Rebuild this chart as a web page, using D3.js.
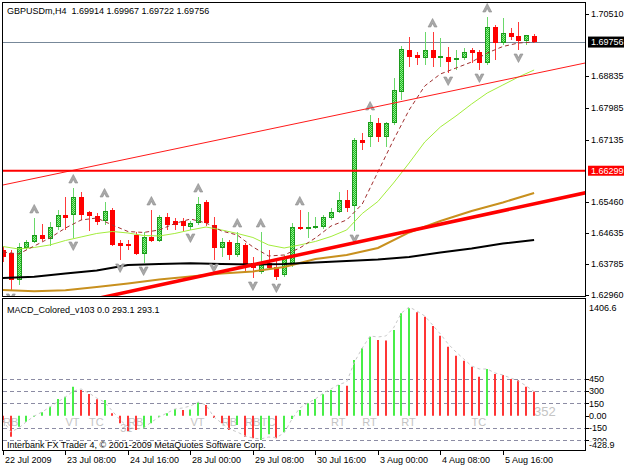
<!DOCTYPE html>
<html><head><meta charset="utf-8">
<script src="https://cdn.jsdelivr.net/npm/d3@7"></script>
<style>
html,body{margin:0;padding:0;background:#fff;}
svg{display:block;font-family:"Liberation Sans",Arial,sans-serif;}
text{white-space:pre;}
</style></head><body>
<svg id="c" width="625" height="469"></svg>
<script>
// ---------- DATA ----------
const open=[1.64169,1.64089,1.63363,1.64223,1.64384,1.64572,1.64465,1.64787,1.65110,1.65110,
1.65593,1.65190,1.65083,1.64949,1.65244,1.64357,1.64331,1.64572,1.64062,1.64519,
1.64411,1.65056,1.64949,1.64949,1.64787,1.64895,1.65459,1.64841,1.64223,1.64384,
1.64035,1.64304,1.63820,1.63578,1.63820,1.63713,1.63498,1.63766,1.64787,1.64734,
1.64774,1.64787,1.65029,1.65190,1.65513,1.65352,1.67125,1.67205,1.67582,1.67205,
1.67582,1.68414,1.69543,1.69408,1.69328,1.69543,1.69328,1.69355,1.69274,1.69328,
1.69543,1.69489,1.69194,1.70161,1.69731,1.70000,1.69919,1.69785,1.69914];
const high=[1.64250,1.64169,1.64357,1.64438,1.65029,1.64868,1.64922,1.65244,1.65593,1.65835,
1.65728,1.65217,1.65164,1.65459,1.65298,1.64438,1.64438,1.64653,1.64653,1.65244,
1.65110,1.65164,1.65029,1.65029,1.64949,1.65593,1.65513,1.65056,1.64492,1.64438,
1.64653,1.64357,1.63981,1.64653,1.64169,1.63901,1.64035,1.64895,1.65244,1.65190,
1.65056,1.65110,1.65298,1.65728,1.65781,1.67178,1.67313,1.67796,1.67716,1.67608,
1.68791,1.69650,1.69892,1.69489,1.70026,1.70026,1.69865,1.69623,1.69543,1.69597,
1.69597,1.69543,1.70429,1.70214,1.70403,1.70134,1.70295,1.69946,1.69967];
const low=[1.63847,1.63095,1.63229,1.64169,1.64357,1.64411,1.64277,1.64707,1.64707,1.64492,
1.64975,1.64680,1.64841,1.64841,1.64277,1.63901,1.64169,1.64035,1.63820,1.64384,
1.64384,1.64707,1.64707,1.64680,1.64707,1.64841,1.64814,1.63901,1.63981,1.63901,
1.63981,1.63578,1.63417,1.63525,1.63632,1.63363,1.63444,1.63713,1.64707,1.64492,
1.64734,1.64734,1.64975,1.65164,1.65190,1.64680,1.66856,1.66937,1.67071,1.66937,
1.67528,1.68199,1.69086,1.69140,1.69140,1.69086,1.69086,1.68925,1.69005,1.69274,
1.69194,1.69005,1.69140,1.69274,1.69677,1.69811,1.69543,1.69677,1.69722];
const close=[1.63981,1.63363,1.64250,1.64384,1.64572,1.64465,1.64787,1.65110,1.65029,1.65593,
1.65110,1.65083,1.64922,1.65217,1.64304,1.64277,1.64277,1.64062,1.64519,1.64411,
1.65056,1.64841,1.64841,1.64814,1.64895,1.65405,1.64895,1.64223,1.64384,1.64035,
1.64357,1.63766,1.63686,1.63766,1.63686,1.63444,1.63981,1.64787,1.64734,1.64787,
1.64814,1.65056,1.65190,1.65513,1.65298,1.67125,1.67044,1.67608,1.67205,1.67582,
1.68468,1.69570,1.69355,1.69328,1.69543,1.69328,1.69382,1.69220,1.69341,1.69489,
1.69462,1.69194,1.70161,1.69731,1.70000,1.69892,1.69785,1.69946,1.69756];

// moving averages (sampled at bar indices)
const maSlowIdx=[0,4,8,12,16,20,24,28,32,36,40,44,48,52,56,60,64,68];
const maBlack=[1.63417,1.63452,1.63538,1.63619,1.63766,1.63793,1.63812,1.63793,1.63780,1.63793,
1.63834,1.63874,1.63914,1.63981,1.64102,1.64210,1.64344,1.64438];
const maOrange=[1.63095,1.63060,1.63087,1.63175,1.63269,1.63377,1.63457,1.63538,1.63592,1.63713,
1.63928,1.64035,1.64223,1.64640,1.64949,1.65217,1.65446,1.65701];
const maMidIdx=[0,2,4,6,8,10,12,14,16,18,20,22,24,26,28,30,32,34,36,38,40,42,44,46,48,50,52,54,56,58,60,62,64,66,68];
const maGreen=[1.64263,1.64196,1.64237,1.64304,1.64425,1.64519,1.64613,1.64666,1.64626,1.64559,1.64546,
1.64613,1.64707,1.64787,1.64707,1.64613,1.64505,1.64304,1.64223,1.64304,1.64398,1.64532,
1.64707,1.65150,1.65472,1.65969,1.66507,1.67071,1.67474,1.67770,1.68092,1.68387,1.68602,1.68817,1.69005];
const maFast=[1.64116,1.64062,1.64277,1.64492,1.64760,1.64975,1.65029,1.64841,1.64666,1.64640,1.64707,
1.64881,1.65002,1.64895,1.64680,1.64572,1.64250,1.64008,1.64035,1.64223,1.64492,1.64814,
1.64975,1.65405,1.66265,1.67125,1.67931,1.68576,1.68898,1.69059,1.69220,1.69462,1.69637,1.69731,1.69756];

// fractals
const fractalUp=[4,9,13,19,25,30,33,38,47,55,62];
const fractalDown=[1,9,15,18,24,27,32,35,45,57,61,66];

// drawn objects
const trendThin=[[0,1.65916],[68,1.68906]];
const trendThick=[[20,1.63226],[68,1.65408]];
const hLevel=1.66299;
const lastPrice=1.69756;

// axes
const priceTicks=[1.70510,1.68835,1.67985,1.67135,1.65460,1.64635,1.63785,1.62960];
const timeTickIdx=[0,8,16,24,32,40,48,56,64];
const timeTickLabels=["22 Jul 2009","23 Jul 08:00","24 Jul 16:00","28 Jul 00:00","29 Jul 08:00","30 Jul 16:00","3 Aug 00:00","4 Aug 08:00","5 Aug 16:00"];

// MACD
const macdHist=[-80,-255,-134,-73,-12,41,109,203,231,353,
312,264,199,191,29,-92,-186,-174,-153,-92,
-12,29,81,69,75,163,130,-28,-92,-174,
-113,-255,-275,-295,-226,-275,-202,-40,69,151,
203,260,312,373,365,677,820,961,920,915,
1042,1245,1306,1257,1204,1091,973,839,730,669,
596,474,568,507,495,446,434,353,293.1];
const macdUp=["r","r","g","g","g","g","g","g","g","g",
"r","r","r","g","r","r","r","r","g","g",
"g","g","g","r","g","g","r","r","r","r",
"g","r","r","g","g","r","g","g","g","g",
"g","g","g","g","r","g","g","g","r","r",
"g","g","g","r","r","r","r","r","r","r",
"r","r","g","r","r","r","r","r","r"];
const macdSignal=[-52,-198,-150,-73,-4,45,106,167,227,300,
325,276,215,167,57,-52,-137,-162,-150,-77,
-16,33,81,94,118,167,130,-16,-89,-162,
-198,-247,-271,-283,-259,-265,-210,-40,94,154,
203,276,325,379,410,652,823,969,957,969,
1066,1248,1321,1273,1212,1103,993,872,775,690,
604,568,568,519,495,458,422,361,293.1];
const macdLevels=[450,300,150,-150,-300];
const macdTickVals=[450,300,150,0,-150,-300];
const macdMax=1406.6, macdMin=-428.9;
const noteText=["RB","VT","TC","31","RB","VT","RB","RB","TC","RT","RT","RT","TC","352"];
const noteIdx=[0,8,11,15,16,24,28,31,33,42,46,51,60,68];
const noteLvl=[-125,-125,-125,-198,-125,-125,-125,-125,-125,-125,-125,-125,-125,0];

// ---------- SCALES ----------
const x=d3.scaleLinear().domain([0,68]).range([3,534.1]);
const y=d3.scaleLinear().domain([1.62960,1.70510]).range([295,14]);
const ym=d3.scaleLinear().domain([macdMin,macdMax]).range([451,300]);

const svg=d3.select("#c");
const defs=svg.append("defs");
const pat=defs.append("pattern").attr("id","gchk").attr("width",2).attr("height",2).attr("patternUnits","userSpaceOnUse");
pat.append("rect").attr("width",2).attr("height",2).attr("fill","#22b822");
pat.append("rect").attr("width",1).attr("height",1).attr("fill","#8cf08c");
pat.append("rect").attr("x",1).attr("y",1).attr("width",1).attr("height",1).attr("fill","#8cf08c");
defs.append("clipPath").attr("id","cMain").append("rect").attr("x",3).attr("y",3).attr("width",582).attr("height",293.5);
defs.append("clipPath").attr("id","cMacd").append("rect").attr("x",3).attr("y",299).attr("width",582).attr("height",151.5);

svg.append("rect").attr("width",625).attr("height",469).attr("fill","#fff");

// ---------- MAIN PANEL ----------
const gm=svg.append("g").attr("clip-path","url(#cMain)");
const bars=open.map((o,i)=>({i,o,h:high[i],l:low[i],c:close[i],up:close[i]>=o}));
const px=i=>Math.round(x(i));

// price line
gm.append("line").attr("x1",2).attr("x2",586).attr("y1",Math.round(y(lastPrice))+0.5).attr("y2",Math.round(y(lastPrice))+0.5)
  .attr("stroke","#778899").attr("stroke-width",1);

// wicks
gm.selectAll("line.wick").data(bars).join("line").attr("class","wick")
  .attr("x1",d=>px(d.i)+0.5).attr("x2",d=>px(d.i)+0.5)
  .attr("y1",d=>Math.round(y(d.h))).attr("y2",d=>Math.round(y(d.l)))
  .attr("stroke",d=>d.up?"#6ad86a":"#ff3a3a").attr("stroke-width",1);
// bodies
gm.selectAll("rect.body").data(bars).join("rect").attr("class","body")
  .attr("x",d=>px(d.i)-2+0.5).attr("width",4)
  .attr("y",d=>Math.round(Math.min(y(d.o),y(d.c)))+0.5)
  .attr("height",d=>Math.max(1,Math.round(Math.abs(y(d.o)-y(d.c)))-1))
  .attr("fill",d=>d.up?"url(#gchk)":"#ff0000")
  .attr("stroke",d=>d.up?"#1c9a1c":"#ff0000").attr("stroke-width",1);

// moving averages
const lineIdx=(idx,vals)=>d3.line().x((d,k)=>x(idx[k])).y(d=>y(d))(vals);
gm.append("path").attr("d",lineIdx(maSlowIdx,maOrange)).attr("fill","none").attr("stroke","#c8901e").attr("stroke-width",2);
gm.append("path").attr("d",lineIdx(maSlowIdx,maBlack)).attr("fill","none").attr("stroke","#000").attr("stroke-width",2);
gm.append("path").attr("d",lineIdx(maMidIdx,maGreen)).attr("fill","none").attr("stroke","#a3ec3c").attr("stroke-width",1);
gm.append("path").attr("d",lineIdx(maMidIdx,maFast)).attr("fill","none").attr("stroke","#a03030").attr("stroke-width",1).attr("stroke-dasharray","4,3");

// fractals
const upPath="M0,-4.5 L4.5,4 L1.8,4 L0,0.4 L-1.8,4 L-4.5,4 Z";
const dnPath="M0,4.5 L4.5,-4 L1.8,-4 L0,-0.4 L-1.8,-4 L-4.5,-4 Z";
gm.selectAll("path.fu").data(fractalUp).join("path").attr("class","fu")
  .attr("transform",i=>`translate(${x(i)},${y(high[i])-9})`).attr("d",upPath)
  .attr("fill","#a9a9a9").attr("stroke","#8a8a8a").attr("stroke-width",0.6);
gm.selectAll("path.fd").data(fractalDown).join("path").attr("class","fd")
  .attr("transform",i=>`translate(${x(i)},${y(low[i])+8})`).attr("d",dnPath)
  .attr("fill","#a9a9a9").attr("stroke","#8a8a8a").attr("stroke-width",0.6);

// drawn objects
const extend=(t)=>{const s=(t[1][1]-t[0][1])/(t[1][0]-t[0][0]);const a=-3,b=80;
  return [[x(a),y(t[0][1]+s*(a-t[0][0]))],[x(b),y(t[0][1]+s*(b-t[0][0]))]];};
const e1=extend(trendThin), e2=extend(trendThick);
gm.append("line").attr("x1",e1[0][0]).attr("y1",e1[0][1]).attr("x2",e1[1][0]).attr("y2",e1[1][1]).attr("stroke","#ff1a1a").attr("stroke-width",1);
gm.append("line").attr("x1",2).attr("x2",586).attr("y1",y(hLevel)).attr("y2",y(hLevel)).attr("stroke","#ff0000").attr("stroke-width",2);
gm.append("line").attr("x1",e2[0][0]).attr("y1",e2[0][1]).attr("x2",e2[1][0]).attr("y2",e2[1][1]).attr("stroke","#ff0000").attr("stroke-width",3.5);

// ---------- MACD PANEL ----------
const gd=svg.append("g").attr("clip-path","url(#cMacd)");
gd.selectAll("line.lvl").data(macdLevels).join("line").attr("class","lvl")
  .attr("x1",3).attr("x2",585).attr("y1",v=>Math.round(ym(v))+0.5).attr("y2",v=>Math.round(ym(v))+0.5)
  .attr("stroke","#8c8ca4").attr("stroke-width",1).attr("stroke-dasharray","4,3");
gd.selectAll("text.note").data(noteText).join("text").attr("class","note")
  .attr("x",(t,k)=>x(noteIdx[k])).attr("y",(t,k)=>ym(noteLvl[k]))
  .attr("font-size",(t)=>t==="352"?13:11).attr("fill","#c4c4c4").text(t=>t);
gd.selectAll("line.hist").data(macdHist).join("line").attr("class","hist")
  .attr("x1",(v,i)=>px(i)).attr("x2",(v,i)=>px(i))
  .attr("y1",ym(0)).attr("y2",v=>ym(v))
  .attr("stroke",(v,i)=>macdUp[i]==="g"?"#48ee48":"#ff3535").attr("stroke-width",2);
gd.append("path").attr("d",d3.line().x((d,i)=>x(i)).y(d=>ym(d))(macdSignal))
  .attr("fill","none").attr("stroke","#c8c8c8").attr("stroke-width",1).attr("stroke-dasharray","3,3");

// ---------- FRAMES ----------
svg.append("rect").attr("x",2.5).attr("y",2.5).attr("width",583).attr("height",294).attr("fill","none").attr("stroke","#000");
svg.append("rect").attr("x",2.5).attr("y",298.5).attr("width",583).attr("height",152).attr("fill","none").attr("stroke","#000");

// ---------- TEXTS ----------
const T=(xx,yy,s,opt={})=>svg.append("text").attr("x",xx).attr("y",yy).attr("font-size",opt.size||9).attr("fill",opt.fill||"#000").text(s);
T(7,14,"GBPUSDm,H4  1.69914 1.69967 1.69722 1.69756");
T(7,313,"MACD_Colored_v103 0.0 293.1 293.1");
T(7,447.5,"Interbank FX Trader 4, \u00a9 2001-2009 MetaQuotes Software Corp.");

// price axis
const fmt5=d3.format(".5f");
svg.selectAll("line.pt").data(priceTicks).join("line").attr("class","pt")
  .attr("x1",586).attr("x2",589).attr("y1",v=>Math.round(y(v))+0.5).attr("y2",v=>Math.round(y(v))+0.5).attr("stroke","#000");
svg.selectAll("text.pl").data(priceTicks).join("text").attr("class","pl")
  .attr("x",591).attr("y",v=>y(v)+3).attr("font-size",9).text(v=>fmt5(v));
// highlighted labels
svg.append("rect").attr("x",588).attr("y",y(lastPrice)-5.5).attr("width",36).attr("height",11).attr("fill","#000");
svg.append("text").attr("x",591).attr("y",y(lastPrice)+3).attr("font-size",9).attr("fill","#fff").text(fmt5(lastPrice));
svg.append("rect").attr("x",588).attr("y",y(hLevel)-5).attr("width",36).attr("height",10).attr("fill","#ff0000");
svg.append("text").attr("x",591).attr("y",y(hLevel)+3).attr("font-size",9).attr("fill","#fff").text(fmt5(hLevel));

// macd axis
svg.selectAll("line.mt").data(macdTickVals).join("line").attr("class","mt")
  .attr("x1",586).attr("x2",589).attr("y1",v=>Math.round(ym(v))+0.5).attr("y2",v=>Math.round(ym(v))+0.5).attr("stroke","#000");
svg.selectAll("text.ml").data(macdTickVals).join("text").attr("class","ml")
  .attr("x",589).attr("y",v=>ym(v)+3.3).attr("font-size",9).text(v=>v===0?"0.00":String(v));
svg.append("text").attr("x",589).attr("y",ym(macdMax)+10.5).attr("font-size",9).text(String(macdMax));
svg.append("rect").attr("x",588).attr("y",ym(macdMin)-9.8).attr("width",37).attr("height",9.8).attr("fill","#fff");
svg.append("text").attr("x",589).attr("y",ym(macdMin)-3.3).attr("font-size",9).text(String(macdMin));

// time axis
svg.selectAll("line.tt").data(timeTickIdx).join("line").attr("class","tt")
  .attr("x1",i=>px(i)+0.5).attr("x2",i=>px(i)+0.5).attr("y1",451).attr("y2",455).attr("stroke","#000");
svg.selectAll("text.tl").data(timeTickIdx).join("text").attr("class","tl")
  .attr("x",i=>px(i)+2).attr("y",463).attr("font-size",9).text((i,k)=>timeTickLabels[k]);
</script></body></html>
